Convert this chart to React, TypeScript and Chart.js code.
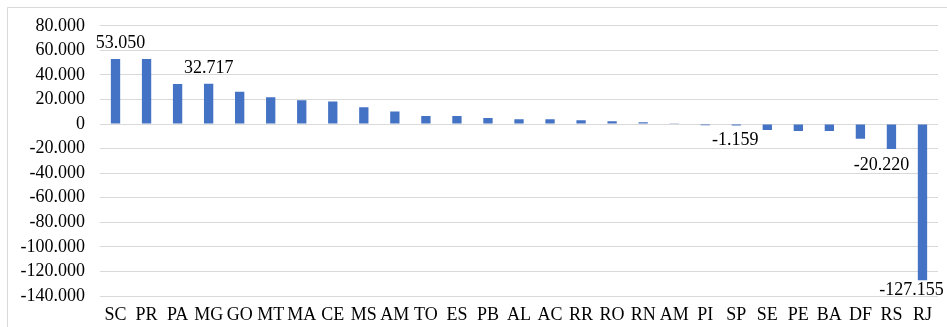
import React, { useEffect, useRef } from "react";
import { Chart, registerables } from "chart.js";

Chart.register(...registerables);

const states = [
  "SC", "PR", "PA", "MG", "GO", "MT", "MA", "CE", "MS", "AM", "TO", "ES", "PB", "AL",
  "AC", "RR", "RO", "RN", "AM", "PI", "SP", "SE", "PE", "BA", "DF", "RS", "RJ",
];

const saldo = [
  53050, 53000, 32600, 32717, 26300, 21900, 19300, 18400, 13700, 10200, 6600, 6600, 4900, 3900,
  3900, 3050, 2200, 1400, 150, -1050, -1159, -4900, -5700, -5700, -11900, -20220, -127155,
];

// indices of bars that carry a value label
const labelledBars = [0, 3, 20, 25, 26];

const yMin = -140000;
const yMax = 80000;
const yStep = 20000;

const FONT = '"Liberation Serif", "Times New Roman", serif';

function fmt(v: number): string {
  const neg = v < 0;
  const s = Math.abs(Math.round(v)).toString();
  const withDots = s.replace(/\B(?=(\d{3})+(?!\d))/g, ".");
  return (neg ? "-" : "") + withDots;
}

const labelShift: Record<number, [number, number]> = {
  0: [5, 10],
  3: [0, 10],
  20: [-1, 9],
  25: [-10, 10],
  26: [-11, 4],
};

const valueLabels = {
  id: "valueLabels",
  afterDatasetsDraw(chart: any) {
    const ctx = chart.ctx;
    const meta = chart.getDatasetMeta(0);
    ctx.save();
    ctx.font = `18px ${FONT}`;
    ctx.fillStyle = "#000";
    ctx.textAlign = "center";
    labelledBars.forEach((i) => {
      const el = meta.data[i];
      const v = saldo[i];
      const [dx, gap] = labelShift[i];
      if (v >= 0) {
        ctx.textBaseline = "bottom";
        ctx.fillText(fmt(v), el.x + dx, el.y - gap + 3);
      } else {
        ctx.textBaseline = "top";
        ctx.fillText(fmt(v), el.x + dx, el.y + gap - 3);
      }
    });
    ctx.restore();
  },
};

const frame = {
  id: "frame",
  beforeDraw(chart: any) {
    const ctx = chart.ctx;
    ctx.save();
    ctx.strokeStyle = "#d9d9d9";
    ctx.lineWidth = 1;
    ctx.beginPath();
    ctx.moveTo(7.5, chart.height + 2);
    ctx.lineTo(7.5, 7.5);
    ctx.lineTo(chart.width + 2, 7.5);
    ctx.stroke();
    ctx.restore();
  },
};

export default function App() {
  const ref = useRef<HTMLCanvasElement | null>(null);

  useEffect(() => {
    document.body.style.margin = "0";
    const chart = new Chart(ref.current as HTMLCanvasElement, {
      type: "bar",
      data: {
        labels: states,
        datasets: [
          {
            data: saldo,
            backgroundColor: "#4472C4",
            barPercentage: 0.3,
            categoryPercentage: 1,
          },
        ],
      },
      options: {
        animation: false,
        responsive: true,
        maintainAspectRatio: false,
        layout: { padding: { left: 0, right: 9, top: 24, bottom: 0 } },
        plugins: { legend: { display: false }, tooltip: { enabled: false } },
        scales: {
          x: {
            grid: { display: false, drawTicks: false },
            border: { display: false },
            ticks: {
              autoSkip: false,
              maxRotation: 0,
              minRotation: 0,
              padding: 8,
              color: "#000",
              font: { family: FONT, size: 18 },
            },
            afterFit(scale: any) {
              scale.height = 31;
            },
          },
          y: {
            min: yMin,
            max: yMax,
            grid: { color: "#d9d9d9", lineWidth: 1, drawTicks: false },
            border: { display: false },
            ticks: {
              stepSize: yStep,
              autoSkip: false,
              padding: 15,
              color: "#000",
              font: { family: FONT, size: 18 },
              callback: (v: any) => fmt(Number(v)),
            },
            afterFit(scale: any) {
              scale.width = 100;
            },
          },
        },
      },
      plugins: [frame, valueLabels],
    });
    return () => chart.destroy();
  }, []);

  return (
    <div style={{ position: "fixed", left: 0, top: 0, width: 947, height: 327, background: "#fff" }}>
      <canvas ref={ref} />
    </div>
  );
}
